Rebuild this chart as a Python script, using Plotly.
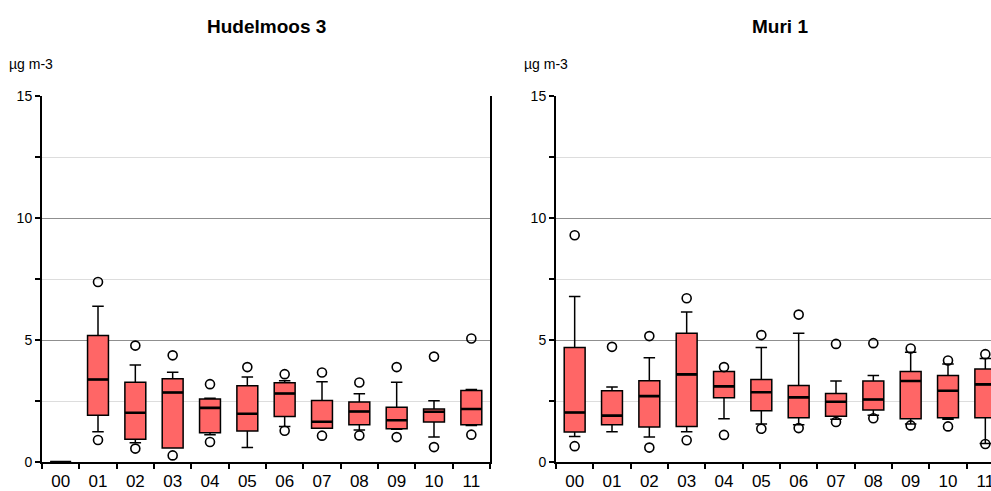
import plotly.graph_objects as go

# Monthly concentration statistics (µg m-3), months 00..11
months = ["00", "01", "02", "03", "04", "05", "06", "07", "08", "09", "10", "11"]

# Hudelmoos 3
hud_q1 = [0, 1.92, 0.93, 0.57, 1.20, 1.27, 1.86, 1.38, 1.53, 1.36, 1.64, 1.53]
hud_med = [0, 3.38, 2.02, 2.85, 2.22, 1.98, 2.81, 1.65, 2.07, 1.71, 2.06, 2.17]
hud_q3 = [0, 5.18, 3.27, 3.41, 2.58, 3.12, 3.25, 2.52, 2.46, 2.24, 2.17, 2.93]
hud_lo = [0, 1.24, 0.79, 0.57, 1.12, 0.59, 1.45, 1.38, 1.31, 1.34, 1.02, 1.50]
hud_hi = [0, 6.38, 3.98, 3.68, 2.61, 3.48, 3.33, 3.29, 2.80, 3.27, 2.51, 2.97]
hud_out_hi = [None, 7.38, 4.77, 4.37, 3.19, 3.89, 3.60, 3.67, 3.26, 3.89, 4.32, 5.06]
hud_out_lo = [None, 0.90, 0.55, 0.27, 0.82, None, 1.28, 1.08, 1.09, 1.02, 0.61, 1.12]

# Muri 1
mur_q1 = [1.23, 1.53, 1.43, 1.46, 2.63, 2.10, 1.81, 1.88, 2.13, 1.77, 1.81, 1.81]
mur_med = [2.03, 1.90, 2.70, 3.59, 3.10, 2.86, 2.65, 2.47, 2.56, 3.32, 2.92, 3.18]
mur_q3 = [4.69, 2.92, 3.33, 5.28, 3.71, 3.38, 3.14, 2.81, 3.32, 3.71, 3.55, 3.81]
mur_lo = [1.04, 1.24, 1.02, 1.24, 1.77, 1.56, 1.53, 1.75, 1.92, 1.56, 1.75, 0.76]
mur_hi = [6.78, 3.07, 4.27, 6.15, 3.71, 4.69, 5.28, 3.32, 3.55, 4.50, 4.02, 4.24]
mur_out_hi = [9.29, 4.72, 5.16, 6.71, 3.89, 5.20, 6.04, 4.84, 4.87, 4.65, 4.16, 4.42]
mur_out_lo = [0.65, None, 0.59, 0.89, 1.11, 1.36, 1.39, 1.64, 1.79, 1.50, 1.46, 0.74]

FONT = "Liberation Sans, Arial, sans-serif"
NARROW = "Liberation Sans Narrow, Arial Narrow, Liberation Sans, sans-serif"
BOX_FILL = "#FF6666"
BOX_W = 0.56

W, H = 991, 491


def px_x(p):
    return p / W


def px_y(p):
    return (H - p) / H


fig = go.Figure()


def add_panel(xa, ya, q1, med, q3, lo, hi, out_hi, out_lo):
    # box body and whiskers
    fig.add_trace(go.Box(
        x=months, q1=q1, median=med, q3=q3, lowerfence=lo, upperfence=hi,
        width=BOX_W, whiskerwidth=0.55, fillcolor=BOX_FILL,
        line=dict(color="black", width=1.5), boxpoints=False,
        xaxis=xa, yaxis=ya, showlegend=False, hoverinfo="skip",
    ))
    # heavier median bar
    fig.add_trace(go.Box(
        x=months, q1=med, median=med, q3=med, lowerfence=med, upperfence=med,
        width=BOX_W, whiskerwidth=0, fillcolor="rgba(0,0,0,0)",
        line=dict(color="black", width=2.6), boxpoints=False,
        xaxis=xa, yaxis=ya, showlegend=False, hoverinfo="skip",
    ))
    # outliers
    for vals in (out_hi, out_lo):
        fig.add_trace(go.Scatter(
            x=months, y=vals, mode="markers",
            marker=dict(symbol="circle-open", size=9, color="black",
                        line=dict(color="black", width=1.6)),
            xaxis=xa, yaxis=ya, showlegend=False, hoverinfo="skip",
        ))


add_panel("x", "y", hud_q1, hud_med, hud_q3, hud_lo, hud_hi, hud_out_hi, hud_out_lo)
add_panel("x2", "y2", mur_q1, mur_med, mur_q3, mur_lo, mur_hi, mur_out_hi, mur_out_lo)

cat_px = (490 - 42) / 12.0
right_end = 11.5 - (556 + 12 * cat_px - W) / cat_px

xcommon = dict(
    type="category", showline=True, linecolor="black", linewidth=2,
    ticks="outside", tickson="boundaries", ticklen=5, tickwidth=1.5,
    tickcolor="black", showgrid=False, zeroline=False, automargin=False,
    ticklabelstandoff=3,
    tickfont=dict(family=NARROW, size=17, color="black"),
)
ycommon = dict(
    range=[0, 15], dtick=5, tick0=0, showline=True, linecolor="black",
    linewidth=2, ticks="outside", ticklen=5, tickwidth=1.5, tickcolor="black",
    showgrid=True, gridcolor="#8f8f8f", gridwidth=1.2, zeroline=False,
    automargin=False, tickfont=dict(family=FONT, size=14, color="black"),
    minor=dict(dtick=2.5, tick0=0, ticks="outside", ticklen=5, tickwidth=1.5,
               tickcolor="black", showgrid=True, gridcolor="#dddddd",
               gridwidth=1.2),
)

fig.update_layout(
    width=W, height=H,
    margin=dict(l=0, r=0, t=0, b=0),
    paper_bgcolor="white", plot_bgcolor="white",
    boxmode="overlay",
    xaxis=dict(domain=[px_x(42), px_x(490)], anchor="y",
               range=[-0.5, 11.5], **xcommon),
    yaxis=dict(domain=[px_y(462), px_y(96)], anchor="x", mirror=True,
               **ycommon),
    xaxis2=dict(domain=[px_x(556), 1.0], anchor="y2",
                range=[-0.5, right_end], **xcommon),
    yaxis2=dict(domain=[px_y(462), px_y(96)], anchor="x2", **ycommon),
    annotations=[
        dict(text="<b>Hudelmoos 3</b>", x=px_x(266), y=px_y(27),
             xref="paper", yref="paper", showarrow=False,
             xanchor="center", yanchor="middle",
             font=dict(family=FONT, size=19, color="black")),
        dict(text="<b>Muri 1</b>", x=px_x(780), y=px_y(27),
             xref="paper", yref="paper", showarrow=False,
             xanchor="center", yanchor="middle",
             font=dict(family=FONT, size=19, color="black")),
        dict(text="µg m-3", x=px_x(7), y=px_y(64),
             xref="paper", yref="paper", showarrow=False,
             xanchor="left", yanchor="middle",
             font=dict(family=FONT, size=14, color="black")),
        dict(text="µg m-3", x=px_x(522), y=px_y(64),
             xref="paper", yref="paper", showarrow=False,
             xanchor="left", yanchor="middle",
             font=dict(family=FONT, size=14, color="black")),
    ],
)

fig.write_html("out.html")
